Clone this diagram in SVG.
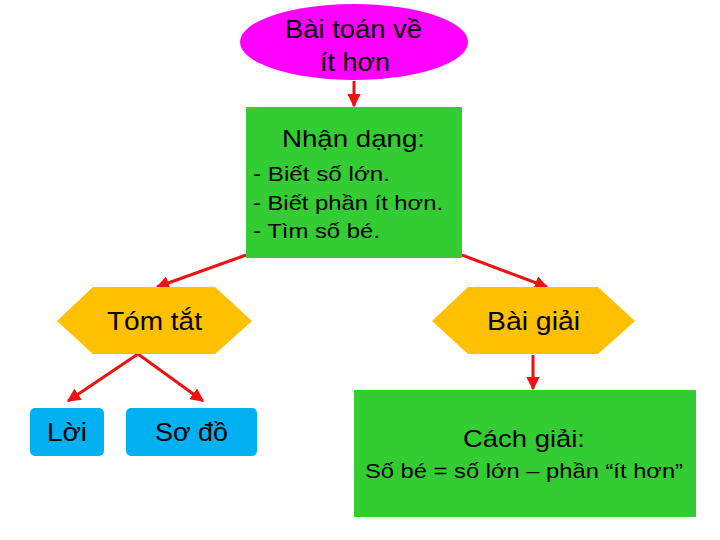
<svg xmlns="http://www.w3.org/2000/svg" width="720" height="540" viewBox="0 0 720 540">
<style>
text{font-family:"Liberation Sans",Arial,sans-serif;fill:#000}
.green{fill:#33CC33}
.hex{fill:#FFC000}
.blue{fill:#00B0F0}
.conn{stroke:#EE1111;stroke-width:3;fill:none;marker-end:url(#ah)}
</style>
<defs>
<marker id="ah" viewBox="0 0 10 10" refX="9" refY="5" markerWidth="4.5" markerHeight="4.5" orient="auto" markerUnits="strokeWidth">
<path d="M0,0 L10,5 L0,10 z" fill="#EE1111"/>
</marker>
</defs>
<rect width="720" height="540" fill="#fff"/>
<g id="connectors">
<line class="conn" x1="354" y1="81" x2="354" y2="106"/>
<line class="conn" x1="246" y1="255" x2="157" y2="287"/>
<line class="conn" x1="462" y1="255" x2="547" y2="287"/>
<line class="conn" x1="138" y1="354" x2="68" y2="401"/>
<line class="conn" x1="138" y1="354" x2="203" y2="401"/>
<line class="conn" x1="533" y1="355" x2="533" y2="389"/>
</g>
<g id="n-top">
<ellipse cx="354" cy="42" rx="114" ry="38" fill="#FF00FF"/>
<text x="285" y="38" font-size="25" textLength="137" lengthAdjust="spacingAndGlyphs">Bài toán về</text>
<text x="320" y="71" font-size="25" textLength="70" lengthAdjust="spacingAndGlyphs">ít hơn</text>
</g>
<g id="n-nhandang">
<rect class="green" x="246" y="107" width="216" height="151"/>
<text x="282" y="147" font-size="24" textLength="143" lengthAdjust="spacingAndGlyphs">Nhận dạng:</text>
<text x="253" y="181" font-size="21" textLength="137" lengthAdjust="spacingAndGlyphs">- Biết số lớn.</text>
<text x="253" y="210" font-size="21" textLength="190" lengthAdjust="spacingAndGlyphs">- Biết phần ít hơn.</text>
<text x="253" y="238" font-size="21" textLength="127" lengthAdjust="spacingAndGlyphs">- Tìm số bé.</text>
</g>
<g id="n-tomtat">
<polygon class="hex" points="57,321 93,287 215,287 252,321 215,354 93,354"/>
<text x="107" y="330" font-size="25" textLength="95" lengthAdjust="spacingAndGlyphs">Tóm tắt</text>
</g>
<g id="n-baigiai">
<polygon class="hex" points="432,321 468,287 598,287 635,321 598,354 468,354"/>
<text x="487" y="330" font-size="25" textLength="93" lengthAdjust="spacingAndGlyphs">Bài giải</text>
</g>
<g id="n-loi">
<rect class="blue" x="30" y="408" width="74" height="48" rx="5"/>
<text x="47" y="441" font-size="25" textLength="40" lengthAdjust="spacingAndGlyphs">Lời</text>
</g>
<g id="n-sodo">
<rect class="blue" x="126" y="408" width="131" height="48" rx="5"/>
<text x="155" y="441" font-size="25" textLength="73" lengthAdjust="spacingAndGlyphs">Sơ đồ</text>
</g>
<g id="n-cachgiai">
<rect class="green" x="354" y="390" width="342" height="127"/>
<text x="463" y="447" font-size="24" textLength="122" lengthAdjust="spacingAndGlyphs">Cách giải:</text>
<text x="365" y="478" font-size="21" textLength="318" lengthAdjust="spacingAndGlyphs">Số bé = số lớn – phần “ít hơn”</text>
</g>
</svg>
